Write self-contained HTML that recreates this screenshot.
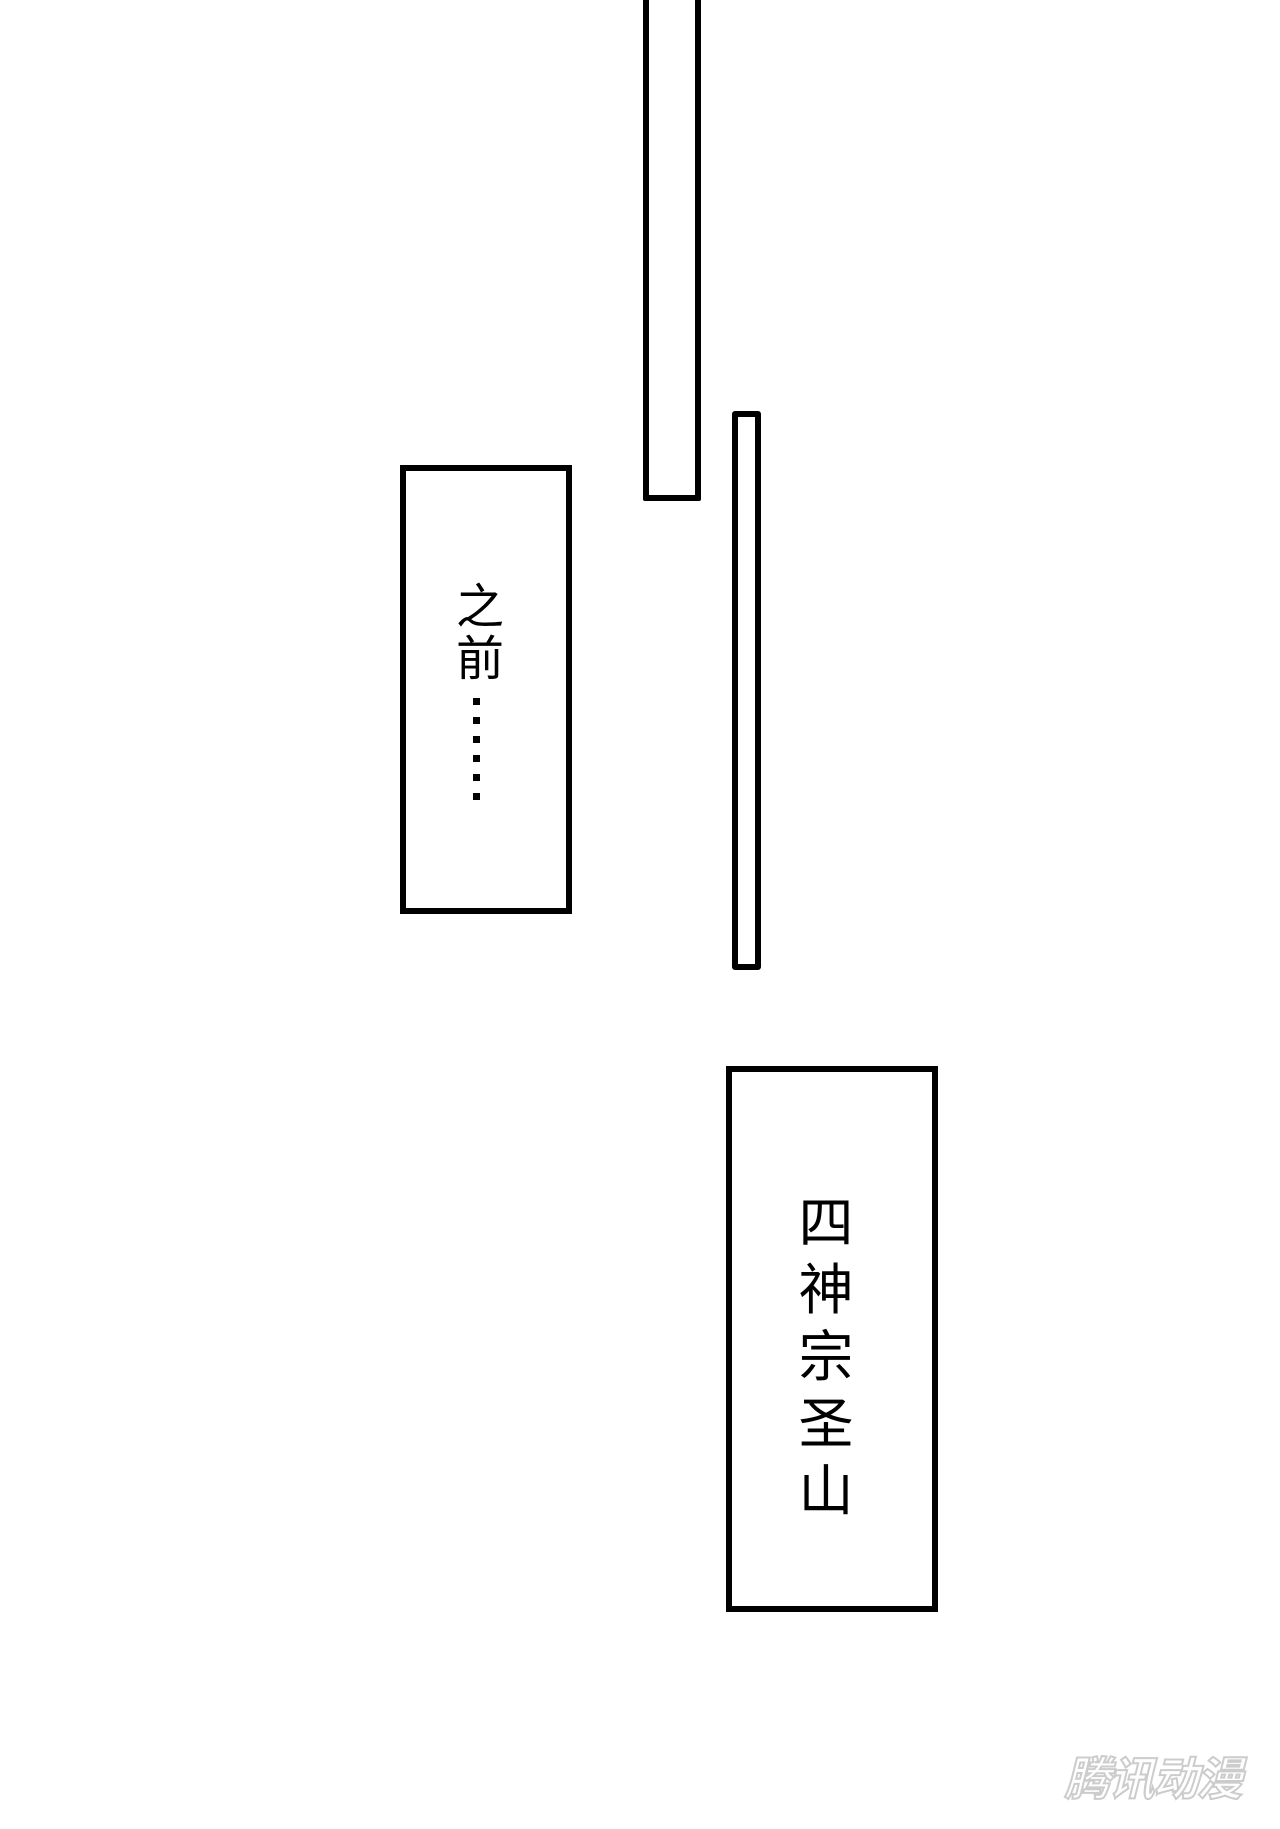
<!DOCTYPE html>
<html><head><meta charset="utf-8"><style>
body{margin:0;width:1280px;height:1829px;background:#fff;position:relative;overflow:hidden;font-family:"Liberation Sans","Noto Sans CJK SC",sans-serif}
.b{position:absolute;border:6px solid #000;box-sizing:border-box;background:#fff}
.t{position:absolute;color:#000;text-align:center;line-height:1}
</style></head><body>
<div class="b" style="left:643px;top:-10px;width:58px;height:511px;border-radius:2px"></div>
<div class="b" style="left:732px;top:411px;width:29px;height:559px;border-radius:3px"></div>
<div class="b" style="left:400px;top:465px;width:172px;height:449px"></div>
<div class="t" style="left:449px;top:582px;width:62px;font-size:48px;line-height:52px">之<br>前</div>
<div style="position:absolute;left:473px;top:698px;width:7px;height:106px;background:repeating-linear-gradient(#000 0 7px,transparent 7px 19px)"></div>
<div class="b" style="left:726px;top:1066px;width:212px;height:546px"></div>
<div class="t" style="left:795px;top:1190px;width:62px;font-size:55px;line-height:67px">四<br>神<br>宗<br>圣<br>山</div>
<div class="t" style="left:1050px;top:1756px;width:205px;font-size:46px;font-weight:bold;font-style:italic;color:#fff;-webkit-text-stroke:2px #ccc;letter-spacing:-2px">腾讯动漫</div>
</body></html>
